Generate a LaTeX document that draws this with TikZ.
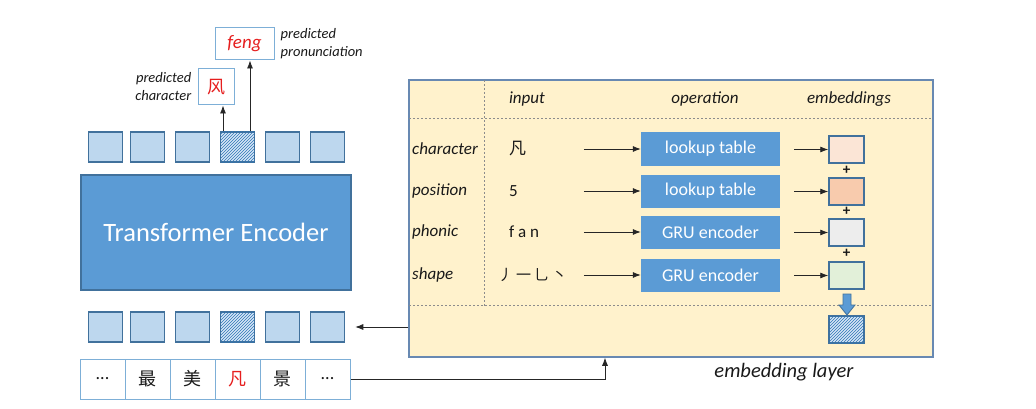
\documentclass[tikz,border=0pt]{standalone}
\usepackage{fontspec}
\setmainfont{Carlito}
\newfontfamily\cjk{Noto Sans CJK SC}
\usetikzlibrary{patterns,arrows.meta}

\definecolor{tokfill}{RGB}{189,215,238}
\definecolor{tokdraw}{RGB}{65,113,156}
\definecolor{hatchbg}{RGB}{214,230,246}
\definecolor{hatchline}{RGB}{46,117,182}
\definecolor{opfill}{RGB}{91,155,213}
\definecolor{celldraw}{RGB}{125,175,215}
\definecolor{layerfill}{RGB}{255,242,204}
\definecolor{layerdraw}{RGB}{104,137,178}
\definecolor{embA}{RGB}{251,229,214}
\definecolor{embB}{RGB}{248,203,173}
\definecolor{embC}{RGB}{237,237,237}
\definecolor{embD}{RGB}{226,240,217}
\definecolor{predred}{RGB}{230,30,30}
\definecolor{txt}{RGB}{25,25,25}

\begin{document}
\begin{tikzpicture}[y=-1pt, x=1pt, font=\fontsize{17}{20}\selectfont, text=txt,
  token/.style={draw=tokdraw, fill=tokfill, line width=1.5pt, minimum width=34pt, minimum height=30pt, inner sep=0pt},
  masked/.style={token, fill=hatchbg, postaction={pattern=north east lines, pattern color=hatchline}},
  cell/.style={draw=celldraw, line width=1pt, fill=white, minimum width=45pt, minimum height=40pt, inner sep=0pt, font=\cjk\fontsize{18}{20}\selectfont},
  predbox/.style={draw=celldraw, line width=1pt, fill=white, inner sep=0pt},
  opbox/.style={fill=opfill, text=white, minimum width=139pt, minimum height=33pt, inner sep=0pt, font=\fontsize{18}{20}\selectfont},
  embbox/.style={draw=tokdraw, line width=1.5pt, minimum width=35pt, minimum height=27pt, inner sep=0pt},
  label/.style={font=\itshape\fontsize{17}{20}\selectfont},
  small/.style={font=\itshape\fontsize{14.5}{18}\selectfont, inner sep=0pt},
  arr/.style={-{Latex[length=8pt,width=6pt]}, line width=0.8pt, draw=black!85},
  gridline/.style={draw=black!45, dash pattern=on 2pt off 2pt, line width=0.6pt}]

\useasboundingbox (0,0) rectangle (1036,409);

% embedding layer
\node (emb) [draw=layerdraw, fill=layerfill, line width=1.5pt, minimum width=524pt, minimum height=277pt, inner sep=0pt] at (671,218.5) {};
\draw[gridline] (484,80) -- (484,306);
\draw[gridline] (409,118) -- (933,118);
\draw[gridline] (409,305) -- (933,305);

\node (hinput) [label] at (527,99) {input};
\node (hop)    [label] at (705,99) {operation};
\node (hemb)   [label] at (849,99) {embeddings};

\node (l1) [label, anchor=west, inner sep=0pt] at (412,149) {character};
\node (l2) [label, anchor=west, inner sep=0pt] at (412,191) {position};
\node (l3) [label, anchor=west, inner sep=0pt] at (412,232) {phonic};
\node (l4) [label, anchor=west, inner sep=0pt] at (412,275) {shape};

\node (i1) [anchor=west, inner sep=0pt, font=\cjk\fontsize{17}{20}\selectfont] at (509,149) {凡};
\node (i2) [anchor=west, inner sep=0pt] at (509,191) {5};
\node (i3) [anchor=west, inner sep=0pt] at (509,232) {f a n};
\node (i4) [anchor=west, inner sep=0pt, font=\cjk\fontsize{15}{18}\selectfont] at (498,275) {丿\hspace{3pt}一\hspace{3pt}乚\hspace{3pt}丶};

\node (o1) [opbox] at (710.5,149) {lookup table};
\node (o2) [opbox] at (710.5,191) {lookup table};
\node (o3) [opbox] at (710.5,232) {GRU encoder};
\node (o4) [opbox] at (710.5,275) {GRU encoder};

\node (e1) [embbox, fill=embA] at (846.5,149.5) {};
\node (e2) [embbox, fill=embB] at (846.5,191.5) {};
\node (e3) [embbox, fill=embC] at (846.5,232.5) {};
\node (e4) [embbox, fill=embD] at (846.5,275.5) {};

\draw[arr] ([xshift=-57pt]o1.west) -- (o1.west);
\draw[arr] ([xshift=-57pt]o2.west) -- (o2.west);
\draw[arr] ([xshift=-57pt]o3.west) -- (o3.west);
\draw[arr] ([xshift=-57pt]o4.west) -- (o4.west);

\draw[arr] ([xshift=-34pt]e1.west) -- (e1.west);
\draw[arr] ([xshift=-34pt]e2.west) -- (e2.west);
\draw[arr] ([xshift=-34pt]e3.west) -- (e3.west);
\draw[arr] ([xshift=-34pt]e4.west) -- (e4.west);

\node (p1) [inner sep=0pt, font=\bfseries\fontsize{15}{15}\selectfont] at (846.5,170.5) {+};
\node (p2) [inner sep=0pt, font=\bfseries\fontsize{15}{15}\selectfont] at (846.5,211.5) {+};
\node (p3) [inner sep=0pt, font=\bfseries\fontsize{15}{15}\selectfont] at (846.5,253.5) {+};

\node (esum) [masked, minimum width=35pt, minimum height=27pt] at (846.5,329.5) {};
\filldraw[fill=opfill, draw=tokdraw, line width=0.8pt] (843,294) -- (851,294) -- (851,305) -- (855,305) -- (847,315) -- (839,305) -- (843,305) -- cycle;

\node (layername) [font=\itshape\fontsize{20.5}{22}\selectfont] at (784,372) {embedding layer};

% transformer
\node (enc) [draw=tokdraw, fill=opfill, line width=1.2pt, minimum width=270pt, minimum height=115pt, text=white, font=\fontsize{26.5}{30}\selectfont] at (216,232.5) {Transformer Encoder};

\node (t1) [token]  at (105.5,147) {};
\node (t2) [token]  at (147.5,147) {};
\node (t3) [token]  at (192.5,147) {};
\node (t4) [masked] at (237.5,147) {};
\node (t5) [token]  at (282.5,147) {};
\node (t6) [token]  at (327.5,147) {};

\node (b1) [token]  at (105.5,327) {};
\node (b2) [token]  at (147.5,327) {};
\node (b3) [token]  at (192.5,327) {};
\node (b4) [masked] at (237.5,327) {};
\node (b5) [token]  at (282.5,327) {};
\node (b6) [token]  at (327.5,327) {};

\node (c1) [cell] at (102.5,379) {\rmfamily ...};
\node (c2) [cell] at (147.5,379) {最};
\node (c3) [cell] at (192.5,379) {美};
\node (c4) [cell, text=predred] at (237.5,379) {凡};
\node (c5) [cell] at (282.5,379) {景};
\node (c6) [cell] at (327.5,379) {\rmfamily ...};

% predictions
\node (pc) [predbox, minimum width=36pt, minimum height=36pt, text=predred, font=\cjk\fontsize{18}{20}\selectfont] at (216,87) {风};
\node (pp) [predbox, minimum width=59pt, minimum height=32pt, text=predred, font=\itshape\fontsize{19}{22}\selectfont] at (244.5,44) {feng};
\node (pcl) [small, anchor=east, align=right] at ([xshift=-6pt]pc.west) {predicted\\character};
\node (ppl) [small, anchor=west, align=left] at ([xshift=6pt]pp.east) {predicted\\pronunciation};

\draw[arr] ([xshift=-14.5pt]t4.north) -- ([xshift=-14.5pt]t4.north |- pc.south);
\draw[arr] ([xshift=12.5pt]t4.north) -- ([xshift=12.5pt]t4.north |- pp.south);

\draw[arr] (emb.west |- b6.east) -- ([xshift=10pt]b6.east);
\draw[arr] (c6.east) -| ([xshift=-66pt]emb.south);
\end{tikzpicture}
\end{document}
